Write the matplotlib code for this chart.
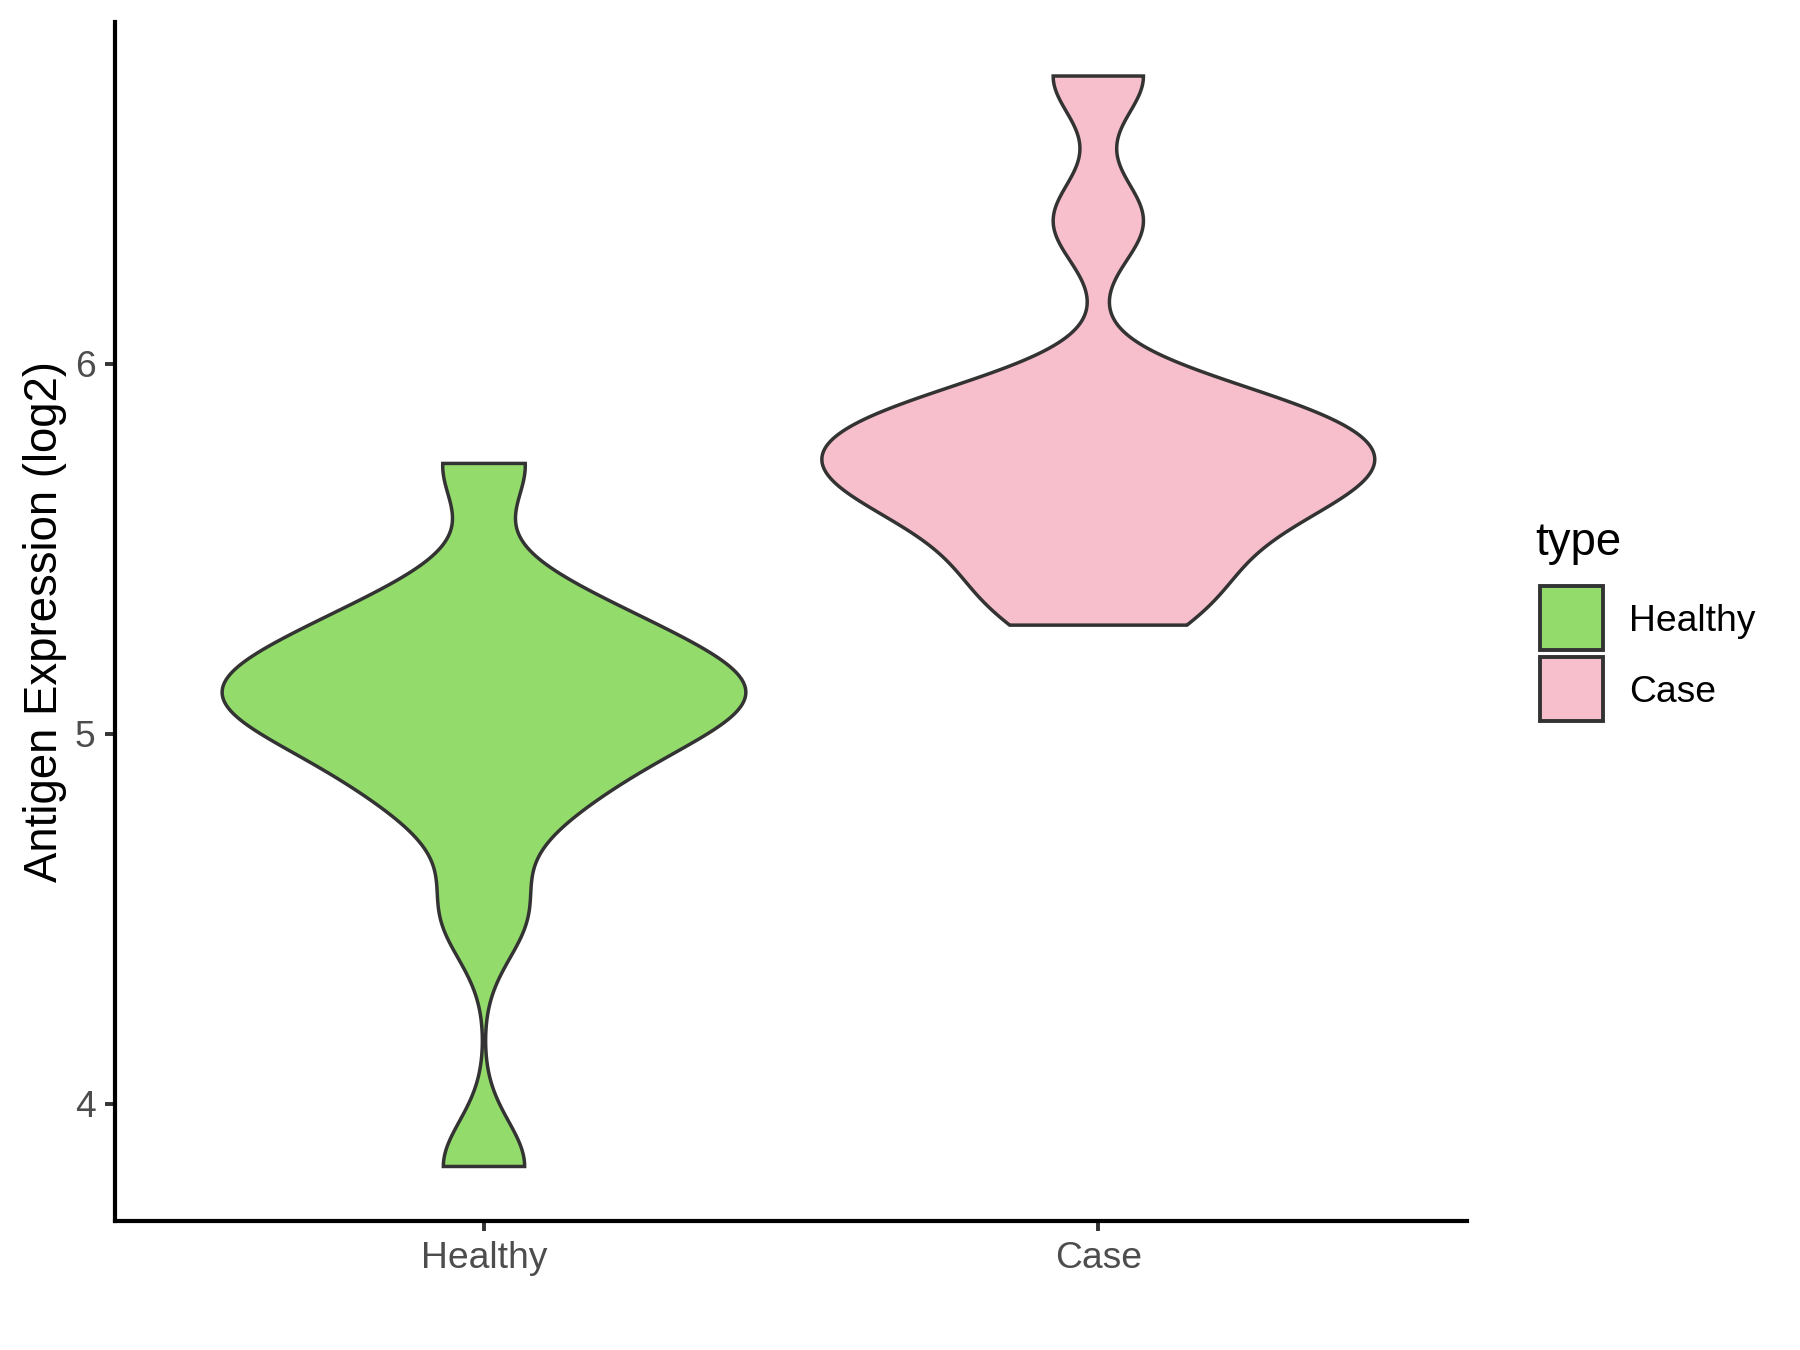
import numpy as np
import matplotlib
matplotlib.use("Agg")
import matplotlib.pyplot as plt
from matplotlib.patches import Polygon, Rectangle

# ---------------- data ----------------
categories = ["Healthy", "Case"]
healthy_values = [3.83, 4.51, 4.78, 4.89, 4.96, 5.04, 5.08, 5.10, 5.12,
                  5.17, 5.23, 5.29, 5.37, 5.73]
case_values = [5.293, 5.39, 5.48, 5.57, 5.63, 5.68, 5.70, 5.74, 5.79,
               5.84, 5.87, 5.91, 6.385, 6.777]
y_ticks = [4, 5, 6]
y_label = "Antigen Expression (log2)"
legend_title = "type"

# ---------------- style ----------------
fill_colors = ["#93DB6B", "#F7BFCB"]
edge_color = "#333333"
plt.rcParams["font.family"] = ["Liberation Sans", "DejaVu Sans"]

W, H = 1800, 1350
DPI = 200
fig = plt.figure(figsize=(W / DPI, H / DPI), dpi=DPI)
fig.patch.set_facecolor("white")


def px_x(p):
    return p / W


def px_y(p):
    return 1 - p / H


ax_left, ax_right = 115.4, 1466.9
ax_top, ax_bottom = 21.5, 1221.0
ax = fig.add_axes([px_x(ax_left), px_y(ax_bottom),
                   (ax_right - ax_left) / W, (ax_bottom - ax_top) / H])


def bw_nrd0(x):
    x = np.asarray(x, float)
    hi = np.std(x, ddof=1)
    q75, q25 = np.percentile(x, [75, 25])
    lo = min(hi, (q75 - q25) / 1.34)
    if lo == 0:
        lo = hi or abs(x[0]) or 1.0
    return 0.9 * lo * len(x) ** -0.2


def kde(x, grid):
    x = np.asarray(x, float)
    h = bw_nrd0(x)
    z = (grid[:, None] - x[None, :]) / h
    return np.exp(-0.5 * z ** 2).sum(axis=1) / (len(x) * h * np.sqrt(2 * np.pi))


groups = [healthy_values, case_values]
grids, dens = [], []
for vals in groups:
    g = np.linspace(min(vals), max(vals), 512)
    grids.append(g)
    dens.append(kde(vals, g))
dmax = max(d.max() for d in dens)

for i, (g, d) in enumerate(zip(grids, dens)):
    pos = i + 1
    half = 0.45 * d / dmax
    xs = np.concatenate([pos - half, (pos + half)[::-1]])
    ys = np.concatenate([g, g[::-1]])
    poly = Polygon(np.column_stack([xs, ys]), closed=True,
                   facecolor=fill_colors[i], edgecolor=edge_color,
                   linewidth=1.25, joinstyle="miter")
    ax.add_patch(poly)

# axes limits (ggplot-like 5% expansion of data range, 0.6 for discrete)
all_vals = np.concatenate([np.asarray(v, float) for v in groups])
lo, hi = all_vals.min(), all_vals.max()
pad = 0.05 * (hi - lo)
ax.set_ylim(lo - pad, hi + pad)
ax.set_xlim(0.4, len(categories) + 0.6)

ax.set_xticks(range(1, len(categories) + 1))
ax.set_xticklabels(categories)
ax.set_yticks(y_ticks)
ax.set_yticklabels([str(t) for t in y_ticks])

for s in ["top", "right"]:
    ax.spines[s].set_visible(False)
for s in ["left", "bottom"]:
    ax.spines[s].set_linewidth(1.5)
    ax.spines[s].set_color("black")
    ax.spines[s].set_capstyle("projecting")
ax.tick_params(axis="both", length=3.6, width=1.4, color=edge_color,
               labelcolor="#4D4D4D", labelsize=13.4, pad=3.5)
ax.set_facecolor("white")

# y axis title
fig.text(px_x(45), px_y(622), y_label, rotation=90, ha="center",
         va="center", fontsize=16.4, color="black")

# legend (drawn in figure pixel space)
fig.text(px_x(1535.5), px_y(555), legend_title, ha="left", va="baseline",
         fontsize=16.4, color="black")
key_left, key_right = 1539.7, 1603.0
key_rows = [(586.0, 650.0), (657.3, 720.7)]
for i, (kt, kb) in enumerate(key_rows):
    fig.add_artist(Rectangle((px_x(key_left), px_y(kb)),
                             (key_right - key_left) / W, (kb - kt) / H,
                             transform=fig.transFigure,
                             facecolor=fill_colors[i], edgecolor=edge_color,
                             linewidth=1.4, joinstyle="miter"))
    cy = (kt + kb) / 2
    fig.text(px_x(1629.5), px_y(cy + 13.0), categories[i], ha="left",
             va="baseline", fontsize=13.4, color="black")

fig.savefig("out.png", dpi=DPI, facecolor="white")
